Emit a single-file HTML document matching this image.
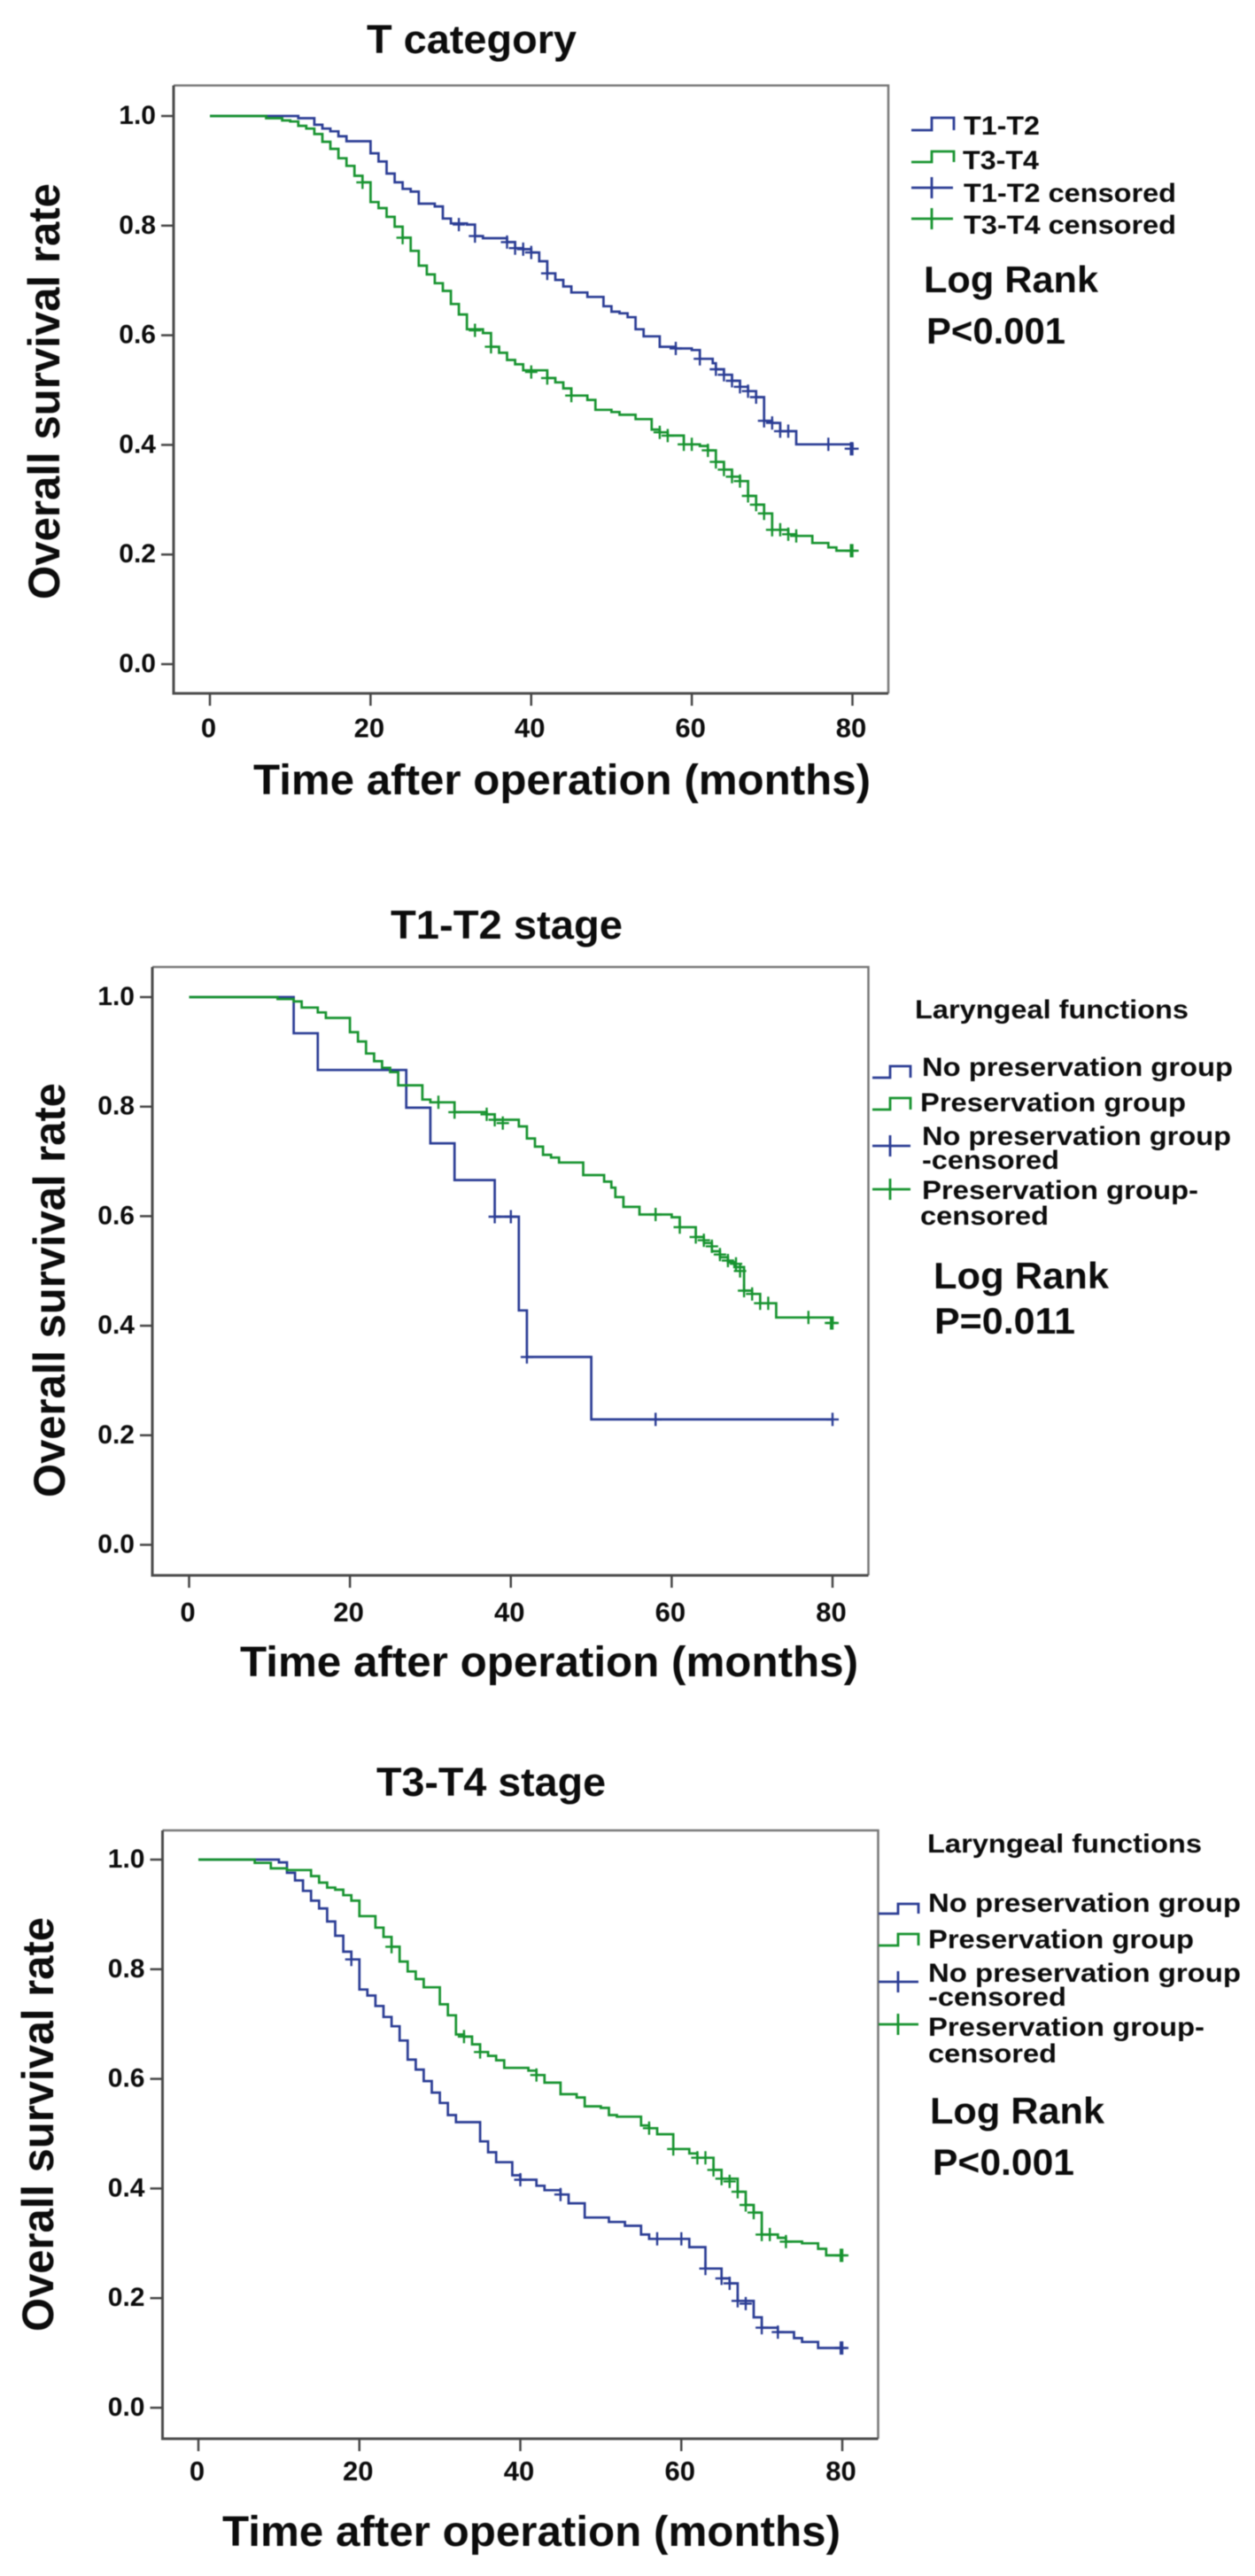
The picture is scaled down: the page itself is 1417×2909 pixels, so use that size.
<!DOCTYPE html>
<html lang="en">
<head>
<meta charset="utf-8">
<title>Overall survival by T category and laryngeal function</title>
<style>
html,body{margin:0;padding:0;background:#fff;width:1417px;height:2909px;overflow:hidden}
svg{display:block;filter:blur(0.4px)}
text{font-family:"Liberation Sans",Arial,sans-serif;font-weight:bold;fill:#0c0c0c}
</style>
</head>
<body>
<svg id="figure" xmlns="http://www.w3.org/2000/svg" width="1417" height="2909" viewBox="0 0 1417 2909">
  <g>
    <text x="414" y="60" font-size="45" textLength="237" lengthAdjust="spacingAndGlyphs">T category</text>
    <text x="286" y="897" font-size="48" textLength="697" lengthAdjust="spacingAndGlyphs">Time after operation (months)</text>
    <text transform="translate(67,677) rotate(-90)" font-size="50" textLength="470" lengthAdjust="spacingAndGlyphs">Overall survival rate</text>
    <text x="1088" y="152" font-size="30" textLength="86" lengthAdjust="spacingAndGlyphs">T1-T2</text>
    <text x="1087" y="191" font-size="30" textLength="86" lengthAdjust="spacingAndGlyphs">T3-T4</text>
    <text x="1088" y="228" font-size="30" textLength="240" lengthAdjust="spacingAndGlyphs">T1-T2 censored</text>
    <text x="1088" y="264" font-size="30" textLength="240" lengthAdjust="spacingAndGlyphs">T3-T4 censored</text>
    <text x="1043" y="330" font-size="42" textLength="197" lengthAdjust="spacingAndGlyphs">Log Rank</text>
    <text x="1046" y="388" font-size="42" textLength="157" lengthAdjust="spacingAndGlyphs">P&lt;0.001</text>
  </g>
  <g>
    <text x="441" y="1060" font-size="45" textLength="262" lengthAdjust="spacingAndGlyphs">T1-T2 stage</text>
    <text x="271" y="1893" font-size="48" textLength="698" lengthAdjust="spacingAndGlyphs">Time after operation (months)</text>
    <text transform="translate(73,1691) rotate(-90)" font-size="50" textLength="468" lengthAdjust="spacingAndGlyphs">Overall survival rate</text>
    <text x="1033" y="1150" font-size="30" textLength="309" lengthAdjust="spacingAndGlyphs">Laryngeal functions</text>
    <text x="1041" y="1215" font-size="30" textLength="351" lengthAdjust="spacingAndGlyphs">No preservation group</text>
    <text x="1039" y="1255" font-size="30" textLength="300" lengthAdjust="spacingAndGlyphs">Preservation group</text>
    <text x="1041" y="1293" font-size="30" textLength="349" lengthAdjust="spacingAndGlyphs">No preservation group</text>
    <text x="1041" y="1320" font-size="30" textLength="155" lengthAdjust="spacingAndGlyphs">-censored</text>
    <text x="1041" y="1354" font-size="30" textLength="312" lengthAdjust="spacingAndGlyphs">Preservation group-</text>
    <text x="1039" y="1383" font-size="30" textLength="145" lengthAdjust="spacingAndGlyphs">censored</text>
    <text x="1054" y="1455" font-size="42" textLength="198" lengthAdjust="spacingAndGlyphs">Log Rank</text>
    <text x="1055" y="1506" font-size="42" textLength="159" lengthAdjust="spacingAndGlyphs">P=0.011</text>
  </g>
  <g>
    <text x="425" y="2028" font-size="45" textLength="259" lengthAdjust="spacingAndGlyphs">T3-T4 stage</text>
    <text x="251" y="2875" font-size="48" textLength="698" lengthAdjust="spacingAndGlyphs">Time after operation (months)</text>
    <text transform="translate(60,2633) rotate(-90)" font-size="50" textLength="468" lengthAdjust="spacingAndGlyphs">Overall survival rate</text>
    <text x="1047" y="2092" font-size="30" textLength="310" lengthAdjust="spacingAndGlyphs">Laryngeal functions</text>
    <text x="1048" y="2159" font-size="30" textLength="353" lengthAdjust="spacingAndGlyphs">No preservation group</text>
    <text x="1048" y="2200" font-size="30" textLength="300" lengthAdjust="spacingAndGlyphs">Preservation group</text>
    <text x="1048" y="2238" font-size="30" textLength="353" lengthAdjust="spacingAndGlyphs">No preservation group</text>
    <text x="1048" y="2265" font-size="30" textLength="156" lengthAdjust="spacingAndGlyphs">-censored</text>
    <text x="1048" y="2299" font-size="30" textLength="312" lengthAdjust="spacingAndGlyphs">Preservation group-</text>
    <text x="1048" y="2329" font-size="30" textLength="145" lengthAdjust="spacingAndGlyphs">censored</text>
    <text x="1050" y="2398" font-size="42" textLength="197" lengthAdjust="spacingAndGlyphs">Log Rank</text>
    <text x="1053" y="2456" font-size="42" textLength="160" lengthAdjust="spacingAndGlyphs">P&lt;0.001</text>
  </g>
</svg>
<script>
// Axis tick labels shared by all three panels
const xTickValues = [0, 20, 40, 60, 80];
const yTickValues = [0.0, 0.2, 0.4, 0.6, 0.8, 1.0];

// Panel 1: T category
const tCatT12Times = [0,11,13,14,15,16,17,20,21,22,23,24,25,26,28,29,30,32,33,34,37,38,39,40,41,42,43,44,45,47,49,50,51,52,53,54,56,58,60,61,62.6,63,64,65,66,67,68,69,70,71,73,80];
const tCatT12Surv = [1,.996,.984,.977,.972,.963,.954,.932,.917,.895,.879,.867,.862,.84,.835,.813,.804,.802,.781,.777,.77,.759,.757,.751,.735,.713,.701,.689,.678,.67,.653,.643,.64,.633,.611,.598,.579,.576,.573,.557,.549,.538,.528,.517,.506,.498,.487,.444,.44,.425,.401,.393];
const tCatT12CensorTimes = [31,33,37,38,39,40,42,58,61,63,64,65,66,67,68,69,70,71,72,77,79.8,80];
const tCatT12CensorSurv = [.802,.781,.77,.759,.757,.751,.713,.576,.557,.538,.528,.517,.506,.498,.487,.444,.44,.425,.425,.401,.393,.393];
const tCatT34Times = [0,7,9,10,11,12,13,14,15,16,17,18,19,20,21,22,23,24,25,26,27,28,29,30,31,32,34,35,36,37,38,39,42,43,44,45,47,48,50,51,53,55,56,57,59,61,62,63,64,65,66,67,68,69,70,72,73,75,77,78,80];
const tCatT34Surv = [1,.996,.992,.99,.982,.977,.967,.953,.94,.923,.909,.891,.879,.843,.832,.816,.798,.778,.754,.727,.711,.695,.681,.657,.638,.611,.604,.579,.568,.555,.547,.536,.522,.514,.503,.49,.482,.464,.46,.455,.447,.428,.423,.417,.401,.398,.39,.369,.355,.342,.334,.307,.291,.275,.245,.237,.234,.221,.213,.207,.207];
const tCatT34CensorTimes = [19,24,33,35,40,42,45,56,57,59,60,62,63,64,65,66,67,68,69,70,71,72,73,79.8,80];
const tCatT34CensorSurv = [.879,.778,.609,.579,.533,.522,.49,.423,.417,.401,.401,.39,.369,.355,.342,.334,.307,.291,.275,.245,.245,.237,.234,.207,.207];

// Panel 2: T1-T2 stage
const earlyNoPresTimes = [0,13,16,27,30,33,38,41,42,50,80];
const earlyNoPresSurv = [1,.934,.867,.798,.733,.666,.599,.428,.343,.229,.229];
const earlyNoPresCensorTimes = [38,40,42,58,80];
const earlyNoPresCensorSurv = [.599,.599,.343,.229,.229];
const earlyPresTimes = [0,11,13,14,16,17,20,21,22,23,24,25,26,29,30,33,37,38,41,42,43,44,45,46,49,51.6,52.5,53,54,56,60,61,63,64,65,66,67,67.8,69,70,71,73,80];
const earlyPresSurv = [1,.9965,.992,.981,.972,.962,.936,.919,.897,.883,.871,.863,.839,.813,.808,.79,.786,.776,.764,.742,.727,.712,.707,.698,.675,.663,.652,.635,.617,.603,.598,.58,.562,.551,.536,.525,.516,.507,.464,.458,.441,.415,.405];
const earlyPresCensorTimes = [31,33,37,38,39,58,61,63,64,65,66,67,68,68.5,69,70,71,72,77,79.8,80];
const earlyPresCensorSurv = [.808,.79,.786,.776,.77,.603,.58,.562,.556,.545,.53,.519,.513,.5,.464,.458,.441,.441,.415,.405,.405];

// Panel 3: T3-T4 stage
const lateNoPresTimes = [0,10,11,12,13,14,15,16,17,18,19,20,21,22,23,24,25,26,27,28,29,30,31,32,35,36,37,39,40,42,43,45,46,48,51,53,55,56,61,63,65,66,67,69,70,72,74,75,77,80];
const lateNoPresSurv = [1,.995,.976,.962,.943,.925,.911,.887,.861,.832,.818,.763,.752,.733,.713,.696,.67,.635,.617,.596,.575,.556,.534,.521,.486,.466,.448,.424,.416,.405,.397,.389,.373,.347,.339,.332,.316,.308,.293,.254,.236,.227,.195,.165,.146,.138,.127,.12,.109,.109];
const lateNoPresCensorTimes = [19,40,45,57,60,63,65,66,67,68,70,72,79.8,80];
const lateNoPresCensorSurv = [.818,.416,.389,.308,.308,.254,.236,.227,.195,.19,.146,.138,.109,.109];
const latePresTimes = [0,7,9,11,14,15,16,17,18,19,20,22,23,24,25,26,27,28,30,31,32,33,34,35,36,37,38,41,42,43,45,47,48,50,51,52,55,56,57,59,61,62,64,65,67,68,69,70,72,73,75,77,78,80];
const latePresSurv = [1,.994,.984,.981,.97,.958,.949,.945,.935,.925,.897,.876,.859,.841,.814,.796,.782,.767,.736,.716,.681,.677,.663,.649,.642,.634,.62,.615,.607,.593,.572,.566,.55,.547,.534,.531,.515,.51,.499,.472,.464,.456,.434,.418,.394,.37,.356,.316,.31,.303,.3,.29,.278,.278];
const latePresCensorTimes = [24,33,35,42,56,59,62,63,64,65,66,67,68,69,70,71,73,79.8,80];
const latePresCensorSurv = [.841,.677,.649,.607,.51,.472,.456,.456,.434,.418,.413,.394,.37,.356,.316,.316,.303,.278,.278];

const BLUE = '#2a3c94';
const GREEN = '#17932f';
const SVG_NS = 'http://www.w3.org/2000/svg';
const svg = document.getElementById('figure');

function drawFrame(panel) {
  const g = document.createElementNS(SVG_NS, 'g');
  
  
  svg.appendChild(g);

  const plot = document.createElementNS(SVG_NS, 'path');
  
  
  plot.setAttribute('d', 'M' + panel.left + ' ' + panel.top + 'H' + panel.right + 'V' + panel.bottom);
  plot.setAttribute('fill', 'none');
  plot.setAttribute('stroke', '#777');
  plot.setAttribute('stroke-width', '2.5');
  g.appendChild(plot);

  const axes = document.createElementNS(SVG_NS, 'path');
  
  
  axes.setAttribute('d', 'M' + panel.left + ' ' + panel.top + 'V' + panel.bottom + 'H' + panel.right);
  axes.setAttribute('fill', 'none');
  axes.setAttribute('stroke', '#4a4a4a');
  axes.setAttribute('stroke-width', '3');
  g.appendChild(axes);

  xTickValues.forEach(function (v) {
    const x = panel.x(v);
    const tick = document.createElementNS(SVG_NS, 'line');
    
    
    tick.setAttribute('x1', x);
    tick.setAttribute('x2', x);
    tick.setAttribute('y1', panel.bottom);
    tick.setAttribute('y2', panel.bottom + 14);
    tick.setAttribute('stroke', '#444');
    tick.setAttribute('stroke-width', '2.5');
    g.appendChild(tick);
    const label = document.createElementNS(SVG_NS, 'text');
    
    
    label.setAttribute('x', x - 1.5);
    label.setAttribute('y', panel.xLabelY);
    label.setAttribute('text-anchor', 'middle');
    label.setAttribute('font-size', '31');
    label.textContent = String(v);
    g.appendChild(label);
  });

  yTickValues.forEach(function (v) {
    const y = panel.y(v);
    const tick = document.createElementNS(SVG_NS, 'line');
    
    
    tick.setAttribute('x1', panel.left - 14);
    tick.setAttribute('x2', panel.left);
    tick.setAttribute('y1', y);
    tick.setAttribute('y2', y);
    tick.setAttribute('stroke', '#444');
    tick.setAttribute('stroke-width', '2.5');
    g.appendChild(tick);
    const label = document.createElementNS(SVG_NS, 'text');
    
    
    label.setAttribute('x', panel.left - 20);
    label.setAttribute('y', y + 9);
    label.setAttribute('text-anchor', 'end');
    label.setAttribute('font-size', '30');
    label.textContent = v.toFixed(1);
    g.appendChild(label);
  });
}

function drawSeries(panel, times, surv, censorTimes, censorSurv, color, name) {
  const g = document.createElementNS(SVG_NS, 'g');
  
  
  svg.appendChild(g);

  let d = 'M' + panel.x(times[0]).toFixed(1) + ' ' + panel.y(surv[0]).toFixed(1);
  for (let i = 1; i < times.length; i++) {
    d += 'H' + panel.x(times[i]).toFixed(1) + 'V' + panel.y(surv[i]).toFixed(1);
  }
  const line = document.createElementNS(SVG_NS, 'path');
  
  
  line.setAttribute('d', d);
  line.setAttribute('fill', 'none');
  line.setAttribute('stroke', color);
  line.setAttribute('stroke-width', '2.7');
  g.appendChild(line);

  censorTimes.forEach(function (t, i) {
    const cx = panel.x(t);
    const cy = panel.y(censorSurv[i]);
    const mark = document.createElementNS(SVG_NS, 'path');
    
    
    mark.setAttribute('d', 'M' + (cx - 7).toFixed(1) + ' ' + cy.toFixed(1) + 'h14M' + cx.toFixed(1) + ' ' + (cy - 7.5).toFixed(1) + 'v15');
    mark.setAttribute('fill', 'none');
    mark.setAttribute('stroke', color);
    mark.setAttribute('stroke-width', '2.4');
    g.appendChild(mark);
  });
}

function drawLegendStep(x1, x2, x3, yLow, yHigh, color, name) {
  const el = document.createElementNS(SVG_NS, 'path');
  
  
  el.setAttribute('d', 'M' + x1 + ' ' + yLow + 'H' + x2 + 'V' + yHigh + 'H' + x3 + 'V' + yLow);
  el.setAttribute('fill', 'none');
  el.setAttribute('stroke', color);
  el.setAttribute('stroke-width', '2.8');
  svg.appendChild(el);
}

function drawLegendCensor(x1, x2, x3, y, color, name) {
  const el = document.createElementNS(SVG_NS, 'path');
  
  
  el.setAttribute('d', 'M' + x1 + ' ' + y + 'H' + x3 + 'M' + x2 + ' ' + (y - 12) + 'V' + (y + 12));
  el.setAttribute('fill', 'none');
  el.setAttribute('stroke', color);
  el.setAttribute('stroke-width', '2.8');
  svg.appendChild(el);
}

function makePanel(key, left, right, top, bottom, x0, x80, y1, y0, xLabelY) {
  return {
    key: key, left: left, right: right, top: top, bottom: bottom, xLabelY: xLabelY,
    x: function (t) { return x0 + (x80 - x0) * t / 80; },
    y: function (s) { return y0 + (y1 - y0) * s; }
  };
}

const panelA = makePanel('t-category', 196, 1003, 96.5, 783, 237, 962.5, 131, 750, 832.5);
const panelB = makePanel('t1-t2-stage', 172, 980.5, 1092, 1779, 213.5, 940, 1126, 1744.5, 1831);
const panelC = makePanel('t3-t4-stage', 183.5, 991.5, 2067, 2754, 224, 951, 2100, 2719, 2801);

drawFrame(panelA);
drawFrame(panelB);
drawFrame(panelC);

drawSeries(panelA, tCatT12Times, tCatT12Surv, tCatT12CensorTimes, tCatT12CensorSurv, BLUE, 't1-t2');
drawSeries(panelA, tCatT34Times, tCatT34Surv, tCatT34CensorTimes, tCatT34CensorSurv, GREEN, 't3-t4');
drawSeries(panelB, earlyNoPresTimes, earlyNoPresSurv, earlyNoPresCensorTimes, earlyNoPresCensorSurv, BLUE, 'early-no-preservation');
drawSeries(panelB, earlyPresTimes, earlyPresSurv, earlyPresCensorTimes, earlyPresCensorSurv, GREEN, 'early-preservation');
drawSeries(panelC, lateNoPresTimes, lateNoPresSurv, lateNoPresCensorTimes, lateNoPresCensorSurv, BLUE, 'late-no-preservation');
drawSeries(panelC, latePresTimes, latePresSurv, latePresCensorTimes, latePresCensorSurv, GREEN, 'late-preservation');

drawLegendStep(1029, 1052, 1077, 147, 133, BLUE, 'legend-swatch-t1-t2');
drawLegendStep(1029, 1052, 1077, 183, 171, GREEN, 'legend-swatch-t3-t4');
drawLegendCensor(1029, 1052, 1076, 212, BLUE, 'legend-swatch-t1-t2-censored');
drawLegendCensor(1029, 1052, 1076, 247, GREEN, 'legend-swatch-t3-t4-censored');

drawLegendStep(985, 1005, 1028, 1217, 1204, BLUE, 'legend-swatch-no-preservation');
drawLegendStep(985, 1005, 1028, 1253, 1240, GREEN, 'legend-swatch-preservation');
drawLegendCensor(985, 1005, 1028, 1294, BLUE, 'legend-swatch-no-preservation-censored');
drawLegendCensor(985, 1005, 1028, 1343, GREEN, 'legend-swatch-preservation-censored');

drawLegendStep(992, 1014, 1037, 2161, 2150, BLUE, 'legend-swatch-no-preservation');
drawLegendStep(992, 1014, 1037, 2197, 2184, GREEN, 'legend-swatch-preservation');
drawLegendCensor(992, 1014, 1037, 2238, BLUE, 'legend-swatch-no-preservation-censored');
drawLegendCensor(992, 1014, 1037, 2286, GREEN, 'legend-swatch-preservation-censored');
</script>
</body>
</html>
